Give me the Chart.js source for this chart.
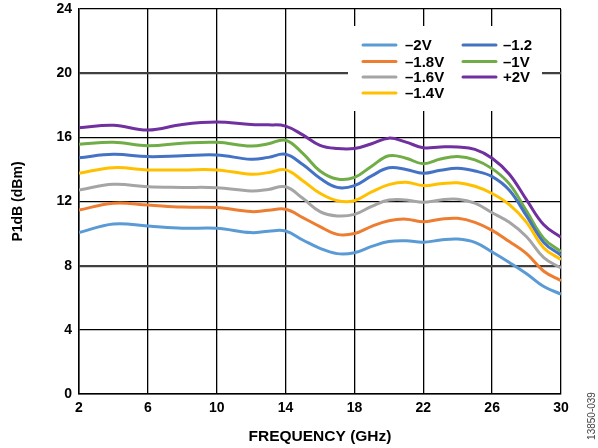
<!DOCTYPE html>
<html><head><meta charset="utf-8">
<script src="https://cdn.jsdelivr.net/npm/chart.js@4/dist/chart.umd.min.js"></script>
<style>html,body{margin:0;padding:0;background:#fff;}#wrap{width:598px;height:448px;position:relative;}</style>
</head><body><div id="wrap"><canvas id="c" width="598" height="448"></canvas></div>
<script>
const freq = [2,4,6,8,10,12,13,14,15,16,17,18,19,20,21,22,23,24,25,26,27,28,29,30];
const vM20  = [10.06,10.6,10.47,10.33,10.33,10.06,10.15,10.16,9.6,9.08,8.75,8.81,9.2,9.5,9.55,9.46,9.6,9.66,9.45,8.85,8.2,7.5,6.7,6.23];
const vM18  = [11.47,11.89,11.78,11.65,11.62,11.37,11.45,11.52,11.0,10.43,9.95,10.0,10.45,10.8,10.9,10.74,10.9,10.95,10.7,10.2,9.5,8.75,7.65,7.07];
const vM16  = [12.72,13.07,12.92,12.88,12.86,12.66,12.75,12.92,12.2,11.37,11.1,11.2,11.7,12.09,12.1,11.95,12.1,12.14,11.9,11.3,10.7,9.8,8.5,7.85];
const vM14  = [13.76,14.11,13.97,13.97,13.97,13.7,13.8,13.97,13.3,12.51,12.05,12.05,12.6,13.05,13.2,12.99,13.1,13.17,12.95,12.5,11.8,10.7,9.1,8.38];
const vM12  = [14.73,14.94,14.8,14.85,14.9,14.63,14.75,14.94,14.3,13.45,12.88,12.99,13.6,14.1,14.0,13.76,13.95,14.07,13.9,13.55,12.7,11.1,9.45,8.65];
const vM10  = [15.57,15.69,15.48,15.63,15.69,15.46,15.6,15.82,15.0,13.9,13.4,13.5,14.2,14.85,14.7,14.35,14.65,14.8,14.6,14.05,13.1,11.4,9.7,8.87];
const vP20  = [16.6,16.75,16.45,16.8,16.95,16.8,16.78,16.7,16.15,15.5,15.3,15.3,15.6,15.95,15.7,15.35,15.4,15.4,15.25,14.7,13.7,12.1,10.55,9.77];
const seriesLabels = ["–2V","–1.8V","–1.6V","–1.4V","–1.2","–1V","+2V"];
const seriesColors = ["#5B9BD5","#ED7D31","#A5A5A5","#FFC000","#4472C4","#70AD47","#7030A0"];
const seriesValues = [vM20,vM18,vM16,vM14,vM12,vM10,vP20];
const xTicks = [2,6,10,14,18,22,26,30];
const yTicks = [0,4,8,12,16,20,24];

const FONT = "'Liberation Sans', Arial, sans-serif";

const datasets = seriesValues.map((vals,i)=>({
  label: seriesLabels[i],
  data: freq.map((f,j)=>({x:f,y:vals[j]})),
  borderColor: seriesColors[i],
  backgroundColor: seriesColors[i],
  borderWidth: 3,
  pointRadius: 0,
  tension: 0.4,
  fill: false
}));

const extras = {
  id:'extras',
  afterDraw(chart){
    const ctx = chart.ctx;
    ctx.save();
    ctx.fillStyle = '#fff';
    ctx.fillRect(348,26,194,85);
    ctx.font = "bold 15px " + FONT;
    ctx.textBaseline = 'middle';
    ctx.textAlign = 'left';
    const cols = [{lx:363,tx:405,items:[0,1,2,3]},{lx:463,tx:503,items:[4,5,6]}];
    const rowY = [45,61.5,77,93];
    cols.forEach(col=>{
      col.items.forEach((idx,r)=>{
        ctx.strokeStyle = seriesColors[idx];
        ctx.lineWidth = 3;
        ctx.lineCap = 'round';
        ctx.beginPath();
        ctx.moveTo(col.lx,rowY[r]);
        ctx.lineTo(col.lx+33,rowY[r]);
        ctx.stroke();
        ctx.fillStyle = '#000';
        ctx.fillText(seriesLabels[idx], col.tx, rowY[r]+1);
      });
    });
    ctx.translate(592,416);
    ctx.rotate(-Math.PI/2);
    ctx.font = "10px " + FONT;
    ctx.fillStyle = '#444';
    ctx.textAlign = 'center';
    ctx.fillText('13850-039',0,0);
    ctx.restore();
  }
};

new Chart(document.getElementById('c'), {
  type:'line',
  data:{datasets},
  plugins:[extras],
  options:{
    responsive:false,
    animation:false,
    layout:{padding:{left:0,top:9,right:37,bottom:0}},
    plugins:{legend:{display:false},tooltip:{enabled:false}},
    scales:{
      x:{
        type:'linear', min:2, max:30,
        afterBuildTicks(s){ s.ticks = xTicks.map(v=>({value:v})); },
        afterFit(s){ s.height = 54; s.paddingLeft = 0; s.paddingRight = 0; },
        ticks:{color:'#000',font:{family:FONT,size:14,weight:'bold'},padding:6,maxRotation:0},
        grid:{color:'#000',lineWidth:1.3,drawTicks:false},
        border:{color:'#000',width:1.5},
        title:{display:true,text:'FREQUENCY (GHz)',color:'#000',font:{family:FONT,size:15.5,weight:'bold'},padding:{top:10,bottom:2}}
      },
      y:{
        min:0,max:24,
        afterBuildTicks(s){ s.ticks = yTicks.map(v=>({value:v})); },
        afterFit(s){ s.width = 79; s.paddingTop = 0; s.paddingBottom = 0; },
        ticks:{color:'#000',font:{family:FONT,size:14,weight:'bold'},padding:7},
        grid:{
          color:c=> (c.tick && (c.tick.value===8||c.tick.value===20)) ? '#404040':'#000',
          lineWidth:c=> (c.tick && (c.tick.value===8||c.tick.value===20)) ? 2.2:1.3,
          drawTicks:false
        },
        border:{color:'#000',width:1.5},
        title:{display:true,text:'P1dB (dBm)',color:'#000',font:{family:FONT,size:14,weight:'bold'},padding:{top:10,bottom:4}}
      }
    }
  }
});
</script></body></html>
